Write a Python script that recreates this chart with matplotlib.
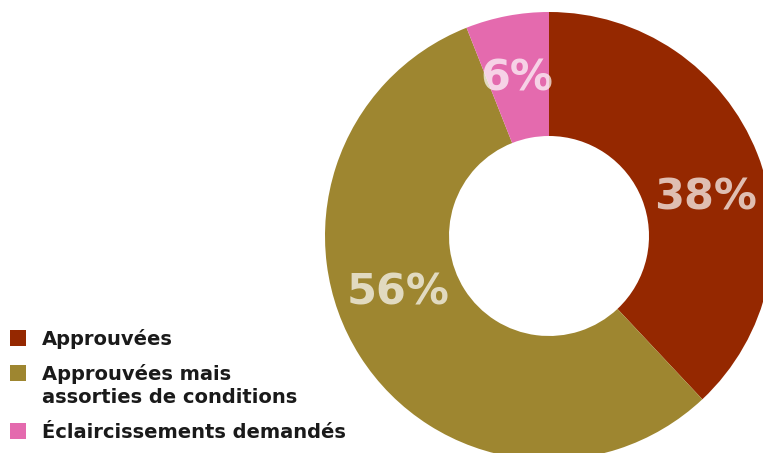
import matplotlib.pyplot as plt
import numpy as np

labels = ["Approuvées", "Approuvées mais\nassorties de conditions", "Éclaircissements demandés"]
values = [38, 56, 6]
colors = ["#952800", "#9e8630", "#e46aae"]
# label angle (deg) and radius used for the percent text, in pixels
label_angles = [14, 200.6, 101.6]
label_radius = 161

W, H = 763, 453
cx, cy, r_out, r_in = 549, H - 236, 224, 100

fig = plt.figure(figsize=(W / 100, H / 100), dpi=100)
ax = fig.add_axes([0, 0, 1, 1])

wedges, _ = ax.pie(values, colors=colors, startangle=90, counterclock=False,
                   center=(cx, cy), radius=r_out,
                   wedgeprops=dict(width=r_out - r_in, linewidth=0))

for v, a in zip(values, label_angles):
    t = np.deg2rad(a)
    ax.text(cx + label_radius * np.cos(t), cy + label_radius * np.sin(t), f"{v}%",
            ha="center", va="center", fontsize=31, fontweight="bold",
            family="DejaVu Sans", color="white", alpha=0.7)

ax.set_xlim(0, W)
ax.set_ylim(0, H)
ax.set_aspect("equal")
ax.axis("off")

# legend drawn by hand at lower left, one baseline per text line
baselines = [[345], [380, 403], [438]]
for c, lab, bl in zip(colors, labels, baselines):
    ax.add_patch(plt.Rectangle((10, H - bl[0] - 1), 16, 16, color=c, linewidth=0))
    for line, b in zip(lab.split("\n"), bl):
        ax.text(42, H - b, line, ha="left", va="baseline", fontweight="bold",
                fontsize=14, family="DejaVu Sans", color="#1a1a1a")

fig.savefig("out.png", dpi=100)
